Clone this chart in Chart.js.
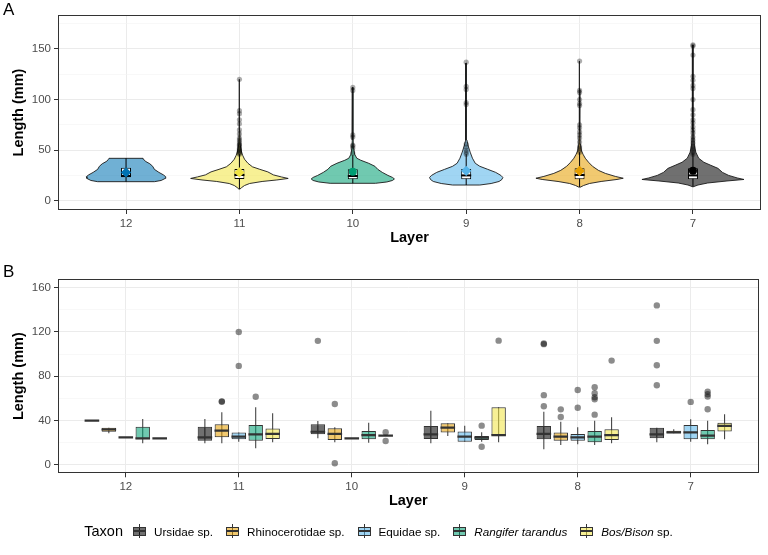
<!DOCTYPE html>
<html>
<head>
<meta charset="utf-8">
<script src="https://cdn.jsdelivr.net/npm/chart.js@4.4.1/dist/chart.umd.min.js"></script>
<style>
  body { margin: 0; background: #fff; width: 768px; height: 555px; overflow: hidden; position: relative;
         font-family: "Liberation Sans", Arial, Helvetica, sans-serif; }
  canvas { position: absolute; left: 0; }
  #chartA { top: 0; }
  #chartB { top: 245px; }
  .tag { position: absolute; left: 3px; font-size: 17px; line-height: 17px; color: #000; }
  #legend { position: absolute; left: 0; top: 522px; width: 768px; height: 18px; display: flex;
            justify-content: center; align-items: center; color: #000; }
  #legend .title { font-size: 14.5px; margin-right: 8px; }
  #legend .key { position: relative; width: 17px; height: 17px; margin-right: 6px; }
  #legend .whisker { position: absolute; left: 8px; top: 1.5px; width: 1px; height: 14px; background: #333; }
  #legend .box { position: absolute; left: 2px; top: 4px; width: 11px; height: 7px; border: 1px solid #333; background: #fff; }
  #legend .med { position: absolute; left: 2px; top: 7.5px; width: 13px; height: 2px; background: #333; }
  #legend .label { font-size: 11.7px; margin-right: 11px; }
</style>
</head>
<body>
<canvas id="chartA" width="768" height="245"></canvas>
<canvas id="chartB" width="768" height="310"></canvas>
<div class="tag" style="top:1px">A</div>
<div class="tag" style="top:263px">B</div>
<div id="legend"></div>

<script>
// Layers (x categories, same order in both panels)
const layers = ['12', '11', '10', '9', '8', '7'];
const layerColors = ['#0072B2', '#F0E442', '#009E73', '#56B4E9', '#E69F00', '#000000'];
const meanShapes = ['rectRot', 'rectRot', 'circle', 'rectRot', 'rectRot', 'circle'];

// Panel A - violin outlines: [length (mm), half width (layer units)]
const violin12 = [[18.8, 0.25], [20, 0.31], [22, 0.345], [23.7, 0.35], [25.5, 0.33], [28, 0.29], [31, 0.25],
  [34, 0.235], [36.5, 0.21], [39, 0.17], [41, 0.155], [41.9, 0.15]];
const violin11 = [[11.3, 0.003], [13, 0.02], [15, 0.045], [17, 0.09], [19, 0.2], [20.5, 0.33], [22, 0.43],
  [23.5, 0.37], [25.5, 0.3], [28.5, 0.25], [31, 0.18], [33.5, 0.115], [37, 0.075], [41, 0.045], [45, 0.028],
  [50, 0.014], [56, 0.006], [70, 0.003], [120, 0.002]];
const violin10 = [[17.2, 0.2], [18.5, 0.3], [20, 0.35], [21.5, 0.367], [23, 0.35], [25, 0.31], [28, 0.26],
  [31, 0.22], [34, 0.195], [37, 0.14], [40, 0.07], [42, 0.035], [46, 0.016], [52, 0.008], [60, 0.006],
  [68, 0.003], [112, 0.002]];
const violin9 = [[15.5, 0.12], [17, 0.22], [19, 0.29], [21, 0.315], [23, 0.323], [25, 0.306], [28, 0.26],
  [31, 0.19], [34, 0.12], [37, 0.08], [42, 0.055], [48, 0.035], [54, 0.018], [60, 0.006], [80, 0.003],
  [136, 0.002]];
const violin8 = [[13.2, 0.003], [15, 0.035], [17, 0.087], [19, 0.19], [21, 0.33], [22.2, 0.385], [24, 0.315],
  [27, 0.227], [30, 0.166], [34, 0.114], [38, 0.079], [42, 0.05], [46, 0.03], [50, 0.015], [56, 0.007],
  [70, 0.004], [110, 0.003], [138, 0.002]];
const violin7 = [[13.8, 0.003], [15.5, 0.044], [17.5, 0.13], [19.5, 0.3], [21, 0.45], [22.5, 0.39], [25, 0.315],
  [28, 0.26], [32, 0.22], [35, 0.157], [38, 0.096], [42, 0.05], [48, 0.025], [55, 0.012], [70, 0.006],
  [100, 0.004], [154, 0.002]];
const violins = [violin12, violin11, violin10, violin9, violin8, violin7];

// Panel A - boxplot summaries per layer
const whiskerLowA = [18.8, 11.3, 17.2, 15.5, 13.2, 13.8];
const boxLowA = [23.1, 21.5, 21.1, 21.1, 21.1, 21.1];
const medianA = [24.5, 25.4, 24.4, 25.0, 25.4, 25.0];
const boxHighA = [32.6, 31.3, 31.0, 31.3, 32.0, 32.0];
const whiskerHighA = [41.9, 46, 45, 46, 48, 47];
const meanA = [28, 28, 28.7, 29.5, 29.4, 29.5];

// Panel A - outliers per layer
const outliers12 = [];
const outliers11 = [120, 89, 86, 80, 76, 70, 66, 62, 60, 58, 56, 55, 54, 52, 51, 50, 49, 48, 47, 46];
const outliers10 = [112, 109, 65, 63, 55, 54, 52, 47];
const outliers9 = [137, 113, 110, 97, 95, 56, 53, 50, 48, 46];
const outliers8 = [138, 109, 107, 100, 96, 94, 75, 72, 68, 65, 62, 58, 54, 52, 50, 48];
const outliers7 = [154, 153, 144, 123, 119, 114, 111, 100, 90, 85, 80, 77, 73, 70, 67, 63, 60, 57, 54, 52, 50, 48, 46];
const outliersA = [outliers12, outliers11, outliers10, outliers9, outliers8, outliers7];

const yTicksA = [0, 25, 50, 75, 100, 125, 150, 175];
const yLabelsA = ['0', '', '50', '', '100', '', '150', ''];

// Panel B - taxa; per layer: [lower whisker, q1, median, q3, upper whisker]
const taxa = ['Ursidae sp.', 'Rhinocerotidae sp.', 'Equidae sp.', 'Rangifer tarandus', 'Bos/Bison sp.'];
const taxaItalic = ['', '', '', 'Rangifer tarandus', 'Bos/Bison'];
const taxonColors = ['#000000', '#E69F00', '#56B4E9', '#009E73', '#F0E442'];

const ursidae = [[40, 40, 40, 40, 40], [19.6, 21.9, 25, 34.6, 41.5], [24.1, 27.7, 30, 36.7, 39.7],
  [19.6, 23.5, 27.7, 35.2, 49], [14.2, 23.2, 28, 35.2, 48.1], [20.5, 24.1, 27.7, 33.7, 33.7]];
const rhinocerotidae = [[28.6, 30, 32, 33.7, 33.7], [19.6, 25, 31, 36.7, 47.6], [20.5, 22.6, 28, 33.1, 34],
  [26.2, 29.2, 33.7, 37.6, 37.6], [18, 21.9, 25.5, 29.2, 39.1], [28.6, 28.6, 29.5, 31, 32.2]];
const equidae = [[25, 25, 25, 25, 25], [21, 23.2, 25.5, 29.2, 29.2], [24.1, 24.1, 24.1, 24.1, 24.1],
  [21, 21, 25.6, 30.1, 35.5], [18.7, 21.9, 25, 28, 34], [21, 23.2, 29.5, 36.1, 41.2]];
const rangifer = [[19.6, 23.2, 24.1, 34.6, 41.5], [15, 21.9, 27.7, 36.1, 52], [20.1, 23.2, 27, 30.7, 38.2],
  [21, 22.6, 24.7, 26.2, 29.5], [18, 20.5, 25.5, 30.7, 40], [18.7, 23.2, 26.5, 31.6, 40]];
const bosBison = [[24.1, 24.1, 24.1, 24.1, 24.1], [20.5, 23.5, 28, 33, 46.7], [26.5, 26.5, 26.5, 26.5, 26.5],
  [20.5, 26.5, 27, 52, 52], [19.6, 22.6, 27, 32.2, 43], [23.2, 30.1, 35.2, 38.2, 45.8]];
const boxesB = [ursidae, rhinocerotidae, equidae, rangifer, bosBison];

// Panel B - outliers: [layer index, length]
const ursidaeOut = [[2, 112], [4, 109], [4, 109.6], [4, 63], [4, 53], [5, 144], [5, 112], [5, 90], [5, 72]];
const rhinocerotidaeOut = [[1, 57], [1, 57.4], [2, 55], [2, 1.5], [4, 50.2], [4, 43.3]];
const equidaeOut = [[1, 120], [1, 89.4], [4, 67.7], [4, 51.7], [5, 56.9]];
const rangiferOut = [[1, 61.6], [3, 35.5], [3, 16.5], [4, 70.1], [4, 64.7], [4, 61.1], [4, 59.3], [4, 45.4],
  [5, 66.2], [5, 63.8], [5, 61.7], [5, 50.3]];
const bosBisonOut = [[2, 29.5], [2, 21.7], [3, 112.2], [4, 94.2]];
const outliersB = [ursidaeOut, rhinocerotidaeOut, equidaeOut, rangiferOut, bosBisonOut];

const yTicksB = [0, 20, 40, 60, 80, 100, 120, 140, 160];
const yLabelsB = ['0', '', '40', '', '80', '', '120', '', '160'];

const dodge = [-0.3, -0.15, 0, 0.15, 0.3];

Chart.defaults.font.family = "'Liberation Sans', Arial, Helvetica, sans-serif";
Chart.defaults.color = '#4D4D4D';
Chart.defaults.animation = false;

function rgba(hex, a) {
  const n = parseInt(hex.slice(1), 16);
  return `rgba(${n >> 16}, ${(n >> 8) & 255}, ${n & 255}, ${a})`;
}

// ggplot-like panel border on all four sides
const panelBorder = {
  id: 'panelBorder',
  afterDatasetsDraw(chart) {
    const { ctx, chartArea: a } = chart;
    ctx.save();
    ctx.strokeStyle = '#333333';
    ctx.lineWidth = 1;
    ctx.strokeRect(Math.round(a.left) + 0.5, Math.round(a.top) + 0.5,
      Math.round(a.right - a.left) - 1, Math.round(a.bottom - a.top) - 1);
    ctx.restore();
  }
};

function xScale(height) {
  return {
    type: 'linear', min: 0.4, max: 6.6, offset: false,
    afterBuildTicks: s => { s.ticks = layers.map((_, i) => ({ value: i + 1 })); },
    afterFit: s => { s.height = height; },
    ticks: { autoSkip: false, maxRotation: 0, padding: 3, color: '#4D4D4D', font: { size: 11.5 },
      callback: v => layers[v - 1] },
    grid: { offset: false, color: '#EBEBEB', lineWidth: 1, tickLength: 4, tickColor: '#333333' },
    border: { display: false },
    title: { display: true, text: 'Layer', color: '#000', font: { size: 14.5, weight: 'bold', lineHeight: 1 },
      padding: { top: 0, bottom: 0 } }
  };
}

function yScale(min, max, ticks, labels) {
  return {
    type: 'linear', min, max,
    afterBuildTicks: s => { s.ticks = ticks.map(v => ({ value: v })); },
    afterFit: s => { s.width = 46; },
    ticks: { autoSkip: false, padding: 3, color: '#4D4D4D', font: { size: 11.5 },
      callback: v => labels[ticks.indexOf(v)] },
    grid: {
      color: c => labels[c.index] ? '#EBEBEB' : '#F4F4F4',
      lineWidth: c => labels[c.index] ? 1 : 0.6,
      tickLength: 4,
      tickColor: c => labels[c.index] ? '#333333' : 'rgba(0,0,0,0)'
    },
    border: { display: false },
    title: { display: true, text: 'Length (mm)', color: '#000', font: { size: 14.5, weight: 'bold', lineHeight: 1 },
      padding: { top: 0, bottom: 0 } }
  };
}

// ---------- Panel A: violins ----------
const dsA = [];
violins.forEach((v, i) => {
  const right = v.map(([len, hw]) => ({ x: i + 1 + hw, y: len }));
  const left = v.slice().reverse().map(([len, hw]) => ({ x: i + 1 - hw, y: len }));
  const pts = right.concat(left);
  pts.push(pts[0]);
  dsA.push({
    type: 'line', data: pts, fill: 'shape', backgroundColor: rgba(layerColors[i], 0.56),
    borderColor: '#1A1A1A', borderWidth: 0.9, pointRadius: 0, tension: 0, order: 6
  });
});
dsA.push({
  type: 'bar', data: layers.map((_, i) => ({ x: i + 1, y: [whiskerLowA[i], whiskerHighA[i]] })),
  grouped: false, maxBarThickness: 1, backgroundColor: '#000', borderWidth: 0, order: 5
});
dsA.push({
  type: 'scatter',
  data: outliersA.flatMap((arr, i) => arr.map(v => ({ x: i + 1, y: v }))),
  pointRadius: 2.6, pointBackgroundColor: 'rgba(0,0,0,0.32)', pointBorderWidth: 0, order: 4
});
dsA.push({
  type: 'bar', data: layers.map((_, i) => ({ x: i + 1, y: [boxLowA[i], boxHighA[i]] })),
  grouped: false, categoryPercentage: 1, barPercentage: 0.088, backgroundColor: '#FFFFFF',
  borderColor: '#000', borderWidth: 1, borderSkipped: false, order: 3
});
dsA.push({
  type: 'scatter', data: layers.map((_, i) => ({ x: i + 1, y: medianA[i] })),
  pointStyle: 'line', pointRadius: 5, pointBorderColor: '#000', pointBorderWidth: 2, order: 2
});
dsA.push({
  type: 'scatter', data: layers.map((_, i) => ({ x: i + 1, y: meanA[i] })),
  pointStyle: meanShapes, pointRadius: meanShapes.map(s => s === 'circle' ? 4 : 5.2),
  pointBackgroundColor: layerColors, pointBorderWidth: 0, order: 1
});

new Chart(document.getElementById('chartA'), {
  type: 'scatter',
  data: { datasets: dsA },
  options: {
    responsive: false,
    layout: { padding: { top: 15, right: 1, left: 12, bottom: 0 } },
    plugins: { legend: { display: false }, tooltip: { enabled: false } },
    scales: { x: xScale(35), y: yScale(-9.2, 183.6, yTicksA, yLabelsA) }
  },
  plugins: [panelBorder]
});

// ---------- Panel B: grouped boxplots ----------
const dsB = [];
const whiskersB = [];
boxesB.forEach((rows, t) => {
  rows.forEach((r, i) => whiskersB.push({ x: i + 1 + dodge[t], y: [r[0], r[4]] }));
});
dsB.push({
  type: 'bar', data: whiskersB, grouped: false, maxBarThickness: 1, backgroundColor: '#333333',
  borderWidth: 0, order: 4
});
boxesB.forEach((rows, t) => {
  dsB.push({
    type: 'bar', label: taxa[t], data: rows.map((r, i) => ({ x: i + 1 + dodge[t], y: [r[1], r[3]] })),
    grouped: false, categoryPercentage: 1, barPercentage: 0.85,
    backgroundColor: rgba(taxonColors[t], 0.56), borderColor: '#333333', borderWidth: 1,
    borderSkipped: false, order: 3
  });
});
dsB.push({
  type: 'scatter',
  data: boxesB.flatMap((rows, t) => rows.map((r, i) => ({ x: i + 1 + dodge[t], y: r[2] }))),
  pointStyle: 'line', pointRadius: 7.3, pointBorderColor: '#333333', pointBorderWidth: 2.2, order: 2
});
dsB.push({
  type: 'scatter',
  data: outliersB.flatMap((arr, t) => arr.map(([i, v]) => ({ x: i + 1 + dodge[t], y: v }))),
  pointRadius: 3.2, pointBackgroundColor: 'rgba(0,0,0,0.45)', pointBorderWidth: 0, order: 1
});

new Chart(document.getElementById('chartB'), {
  type: 'scatter',
  data: { datasets: dsB },
  options: {
    responsive: false,
    layout: { padding: { top: 34, right: 1, left: 12, bottom: 46.7 } },
    plugins: { legend: { display: false }, tooltip: { enabled: false } },
    scales: { x: xScale(35), y: yScale(-7.5, 167.8, yTicksB, yLabelsB) }
  },
  plugins: [panelBorder]
});

// ---------- Legend (HTML, built from the taxa) ----------
const legend = document.getElementById('legend');
legend.innerHTML = '<span class="title">Taxon</span>' + taxa.map((name, t) => {
  const it = taxaItalic[t];
  const text = it ? `<i>${it}</i>${name.slice(it.length)}` : name;
  return `<span class="key"><span class="whisker"></span>` +
    `<span class="box" style="background:${rgba(taxonColors[t], 0.56)}"></span>` +
    `<span class="med"></span></span><span class="label">${text}</span>`;
}).join('');
</script>
</body>
</html>
